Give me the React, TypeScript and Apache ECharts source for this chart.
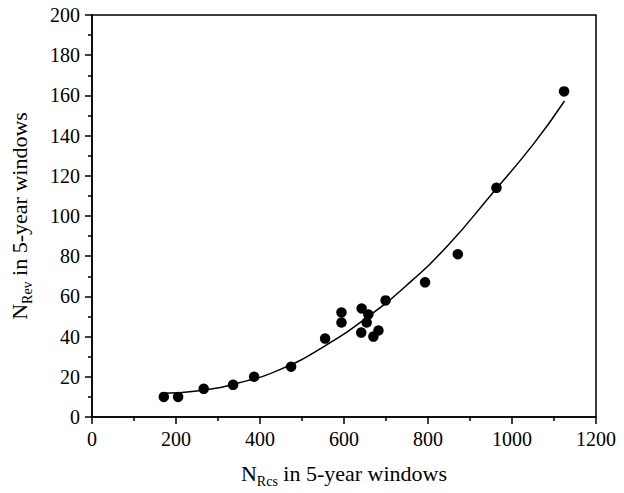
import React, { useEffect, useRef } from "react";
import * as echarts from "echarts";

const nRcs = [171, 205, 266, 336, 386, 474, 555, 594, 594, 642, 658, 654, 641, 670, 682, 699, 793, 871, 963, 1124];
const nRev = [10, 10, 14, 16, 20, 25, 39, 52, 47, 54, 51, 47, 42, 40, 43, 58, 67, 81, 114, 162];

const fitX = [166, 250, 350, 450, 550, 650, 750, 850, 950, 1050, 1125];
const fitY = [11.8, 12.9, 17.0, 23.8, 34.8, 48.8, 65.7, 86.0, 110.5, 135.5, 157.2];

const FONT = "Liberation Serif";

export default function App() {
  const ref = useRef<HTMLDivElement>(null);
  useEffect(() => {
    if (!ref.current) return;
    const chart = echarts.init(ref.current, null, { renderer: "svg" });
    const richName = {
      n: { fontFamily: FONT, fontSize: 22, color: "#000", lineHeight: 30, verticalAlign: "middle" },
      s: { fontFamily: FONT, fontSize: 14, color: "#000", lineHeight: 14, verticalAlign: "bottom" },
    };
    const axisCommon = {
      axisLine: { show: true, onZero: false, lineStyle: { color: "#000", width: 1.5 } },
      axisTick: { show: true, inside: false, length: 7, lineStyle: { color: "#000", width: 1.5 } },
      minorTick: { show: true, splitNumber: 2, length: 4, lineStyle: { color: "#000", width: 1.5 } },
      splitLine: { show: false },
      minorSplitLine: { show: false },
      axisLabel: {
        color: "#000",
        fontFamily: FONT,
        fontSize: 20,
        margin: 12,
        formatter: (v: number) => "{t|" + String(v) + "}",
        rich: { t: { fontFamily: FONT, fontSize: 20, color: "#000" } },
      },
      nameLocation: "middle",
    };
    chart.setOption({
      animation: false,
      backgroundColor: "#fff",
      textStyle: { fontFamily: FONT },
      grid: {
        left: 92,
        top: 15,
        right: 28,
        bottom: 73,
        show: true,
        borderColor: "#000",
        borderWidth: 1.5,
        backgroundColor: "transparent",
      },
      xAxis: {
        type: "value",
        min: 0,
        max: 1200,
        interval: 200,
        ...axisCommon,
        name: "{n|N}{s|Rcs}{n| in 5-year windows}",
        nameGap: 41,
        nameTextStyle: { rich: richName },
      },
      yAxis: {
        type: "value",
        min: 0,
        max: 200,
        interval: 20,
        ...axisCommon,
        name: "{n|N}{s|Rev}{n| in 5-year windows}",
        nameGap: 58,
        nameTextStyle: { rich: richName },
      },
      series: [
        {
          type: "line",
          data: fitX.map((x, i) => [x, fitY[i]]),
          smooth: true,
          showSymbol: false,
          symbol: "none",
          lineStyle: { color: "#000", width: 1.5 },
          z: 2,
        },
        {
          type: "scatter",
          data: nRcs.map((x, i) => [x, nRev[i]]),
          symbol: "circle",
          symbolSize: 10.5,
          itemStyle: { color: "#000", opacity: 1 },
          z: 3,
        },
      ],
    });
    return () => chart.dispose();
  }, []);
  return <div ref={ref} style={{ width: 624, height: 493, position: "absolute", left: 0, top: 0 }} />;
}
